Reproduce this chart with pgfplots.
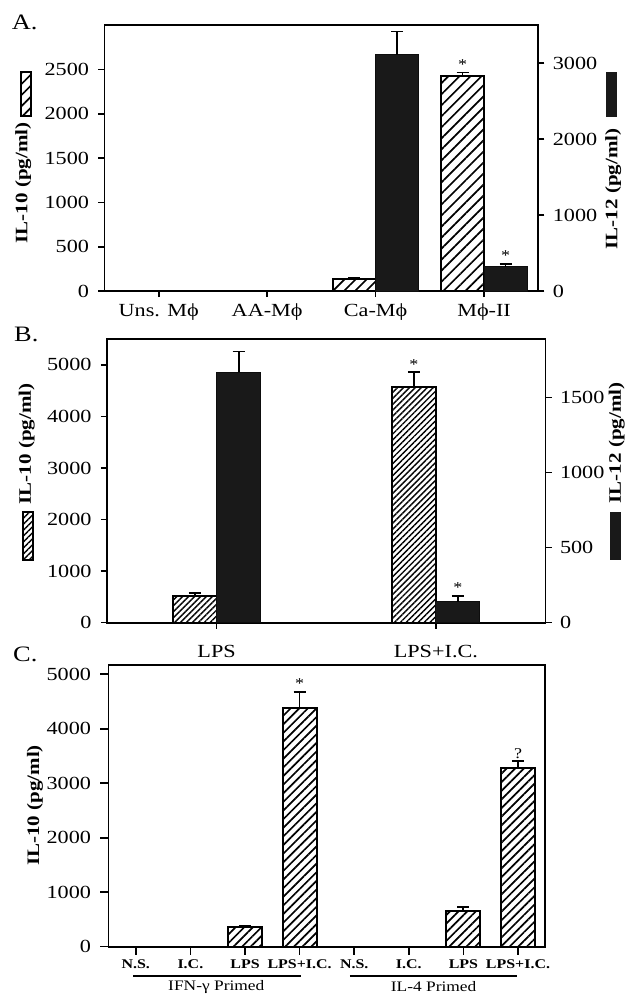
\documentclass[border=0pt]{standalone}
\usepackage{fontspec}
\setmainfont{Liberation Serif}[FakeStretch=1.2]
\usepackage{pgfplots}
\pgfplotsset{compat=1.18}
\usetikzlibrary{patterns.meta}
\newcommand{\ph}{ϕ}
\pgfplotsset{
  base/.style={scale only axis, anchor=south west, ybar, clip=false,
    axis line style={line width=1.8pt},
    every tick/.style={line width=1.6pt, black},
    tick align=outside, major tick length=6pt,
    ticklabel style={font=\fontsize{18.5}{21}\selectfont},
    /pgf/number format/assume math mode=true,
    /pgf/number format/1000 sep={},
    scaled y ticks=false, ymin=0},
  leftax/.style={yticklabel style={xshift=-6pt}},
  rightax/.style={yticklabel style={xshift=5pt}},
  errs/.style={error bars/.cd, y dir=plus, y explicit,
    error bar style={line width=1.8pt, black, solid},
    error mark options={rotate=90, mark size=6pt, line width=1.8pt, black}},
}
\tikzset{
  hatchA/.style={draw=black, line width=2pt, pattern={Lines[angle=45,distance=7.8pt,line width=1.7pt]}},
  hatchB/.style={draw=black, line width=2pt, pattern={Lines[angle=45,distance=4.2pt,line width=1.4pt]}},
  hatchC/.style={draw=black, line width=2pt, pattern={Lines[angle=45,distance=6.1pt,line width=1.7pt]}},
  blackbar/.style={draw=black!95, line width=1pt, fill=black!90},
  star/.style={anchor=base, font=\fontsize{15}{17}\selectfont, inner sep=0pt, yshift=3pt},
  lab/.style={rotate=90, font=\bfseries\fontsize{17.5}{20}\selectfont},
  letter/.style={anchor=base west, font=\fontsize{22}{24}\selectfont, inner sep=0pt},
}
\begin{document}
\begin{tikzpicture}
\useasboundingbox (0pt,0pt) rectangle (634pt,999pt);
% ---------------- Panel A ----------------
\begin{axis}[base, leftax, at={(104.5pt,707.8pt)}, width=433.8pt, height=266.2pt,
  xmin=-0.5, xmax=3.5, ymax=3000, xtick={0,1,2,3},
  xticklabels={Uns. M\ph, AA-M\ph, Ca-M\ph, M\ph-II},
  xticklabel style={yshift=-3pt},
  ytick={0,500,1000,1500,2000,2500}, xtick pos=bottom, ytick pos=left,
  bar width=43pt]
\addplot[hatchA, bar shift=-21.5pt, errs] coordinates {(2,135) +- (0,15) (3,2429) +- (0,35)};
\node[star, xshift=-21.5pt] at (axis cs:3,2464) {*};
\end{axis}
\begin{axis}[base, rightax, at={(104.5pt,707.8pt)}, width=433.8pt, height=266.2pt,
  xmin=-0.5, xmax=3.5, ymax=3500, ytick={0,1000,2000,3000},
  axis x line=none, axis y line*=right, bar width=43pt]
\addplot[blackbar, bar shift=21.5pt, errs] coordinates {(2,3108) +- (0,306) (3,322) +- (0,36)};
\node[star, xshift=21.5pt] at (axis cs:3,358) {*};
\end{axis}
\node[letter] at (11.7pt,969pt) {A.};
\node[lab] at (23.3pt,816pt) {IL-10 (pg/ml)};
\draw[hatchA, line width=2pt] (20.7pt,883pt) rectangle (31pt,927.3pt);
\node[lab] at (613.3pt,810pt) {IL-12 (pg/ml)};
\fill[black!90] (605.7pt,882.3pt) rectangle (616.7pt,927.3pt);
% ---------------- Panel B ----------------
\begin{axis}[base, leftax, at={(107pt,376.3pt)}, width=438.5pt, height=283.7pt,
  xmin=-0.5, xmax=1.5, ymax=5500, xtick={0,1},
  xticklabels={LPS, LPS+I.C.}, xticklabel style={yshift=-13pt},
  ytick={0,1000,2000,3000,4000,5000}, xtick pos=bottom, ytick pos=left,
  bar width=44pt]
\addplot[hatchB, bar shift=-22pt, errs] coordinates {(0,520) +- (0,50) (1,4560) +- (0,300)};
\node[star, xshift=-22pt] at (axis cs:1,4860) {*};
\end{axis}
\begin{axis}[base, rightax, at={(107pt,376.3pt)}, width=438.5pt, height=283.7pt,
  xmin=-0.5, xmax=1.5, ymax=1890, ytick={0,500,1000,1500},
  axis x line=none, axis y line*=right, bar width=44pt]
\addplot[blackbar, bar shift=22pt, errs] coordinates {(0,1667) +- (0,140) (1,140) +- (0,40)};
\node[star, xshift=22pt] at (axis cs:1,180) {*};
\end{axis}
\node[letter] at (14pt,657pt) {B.};
\node[lab] at (26.7pt,555pt) {IL-10 (pg/ml)};
\draw[hatchB, line width=2pt] (22.7pt,439pt) rectangle (33.3pt,487.3pt);
\node[lab] at (616.7pt,556pt) {IL-12 (pg/ml)};
\fill[black!90] (610pt,439pt) rectangle (621pt,487.3pt);
% ---------------- Panel C ----------------
\begin{axis}[base, leftax, at={(108.5pt,52.3pt)}, width=436.8pt, height=281.7pt,
  xmin=-0.5, xmax=7.5, ymax=5170, xtick={0,1,2,3,4,5,6,7},
  xticklabels={N.S., I.C., LPS, LPS+I.C., N.S., I.C., LPS, LPS+I.C.},
  xticklabel style={font=\bfseries\fontsize{13.3}{15}\selectfont, yshift=-1pt},
  major tick length=8pt,
  ytick={0,1000,2000,3000,4000,5000}, xtick pos=bottom, ytick pos=left,
  bar width=34pt]
\addplot[hatchC, bar shift=0pt, errs] coordinates {(2,356) +- (0,30) (3,4381) +- (0,300) (6,661) +- (0,73) (7,3286) +- (0,117)};
\node[star] at (axis cs:3,4681) {*};
\node[star] at (axis cs:7,3403) {?};
\end{axis}
\node[letter] at (13pt,337.3pt) {C.};
\node[lab] at (35pt,193.5pt) {IL-10 (pg/ml)};
\draw[line width=1.8pt] (133.3pt,23pt) -- (300.7pt,23pt);
\draw[line width=1.8pt] (349.8pt,23pt) -- (517.4pt,23pt);
\node[font=\fontsize{14.5}{16}\selectfont] at (216.3pt,12pt) {IFN-γ Primed};
\node[font=\fontsize{14.5}{16}\selectfont] at (433.6pt,12pt) {IL-4 Primed};
\end{tikzpicture}
\end{document}
